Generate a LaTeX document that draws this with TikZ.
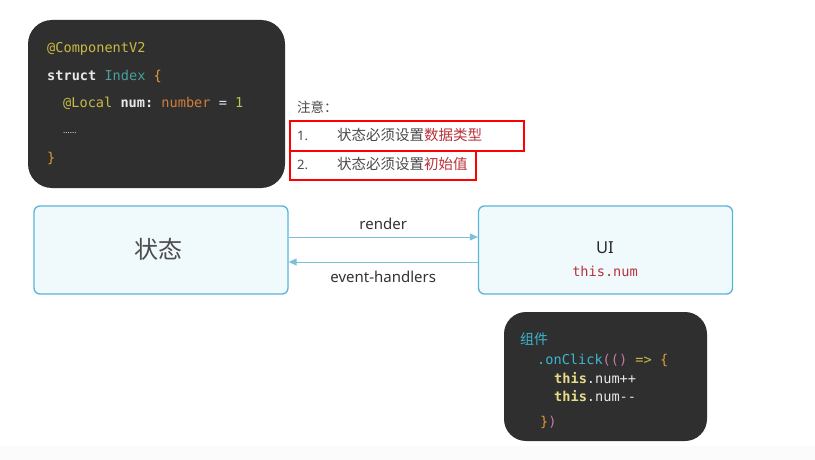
\documentclass[tikz,border=0pt]{standalone}
\usepackage{fontspec}
\setmainfont{Noto Sans}
\setmonofont{DejaVu Sans Mono}
\newfontfamily\cjk{Noto Sans CJK SC}
\usetikzlibrary{arrows.meta}
\definecolor{codebg}{HTML}{2F2F2F}
\definecolor{cyel}{HTML}{C8BA45}
\definecolor{cteal}{HTML}{4A9FA0}
\definecolor{corange}{HTML}{E09A3A}
\definecolor{cnum}{HTML}{D27E3A}
\definecolor{cgreen}{HTML}{B8C850}
\definecolor{cwhite}{HTML}{E8E8E8}
\definecolor{ccyan}{HTML}{3CB6D0}
\definecolor{cpink}{HTML}{C678A8}
\definecolor{cthis}{HTML}{E6DC8A}
\definecolor{boxfill}{HTML}{F0FAFD}
\definecolor{boxline}{HTML}{5BB3D8}
\definecolor{arrowc}{HTML}{7CC0DC}
\definecolor{redtxt}{HTML}{B8323A}
\definecolor{graytxt}{HTML}{4A4A4A}
\tikzset{
  codebox/.style={draw=none, fill=codebg, rounded corners=24pt, inner sep=0pt},
  codeline/.style={anchor=base west, inner sep=0pt, font=\ttfamily\fontsize{13.6}{14}\selectfont},
  statebox/.style={draw=boxline, line width=1.3pt, fill=boxfill, rounded corners=6pt, inner sep=0pt, minimum width=254pt, minimum height=88pt},
  redbox/.style={draw=red, line width=2.2pt, inner sep=0pt},
  listtxt/.style={anchor=base west, inner sep=0pt, text=graytxt, font=\cjk\fontsize{14.5}{15}\selectfont},
  flow/.style={draw=arrowc, line width=1pt, -{Triangle[length=8pt,width=7pt]}},
  lbl/.style={inner sep=0pt, text=black!80, font=\fontsize{15}{16}\selectfont}
}
\begin{document}
\begin{tikzpicture}[x=1pt,y=-1pt]
\useasboundingbox (0,0) rectangle (815,460);
\fill[white] (0,0) rectangle (815,460);
\fill[black!1.5] (0,446) rectangle (815,460);

% top code box
\node[codebox, minimum width=257pt, minimum height=168pt] (code1) at (156.5,104) {};
\node[codeline] (c1a) at (47,53) {\textcolor{cyel}{@ComponentV2}};
\node[codeline] (c1b) at (47,81) {\textcolor{cwhite}{\bfseries struct} \textcolor{cteal}{Index} \textcolor{corange}{\{}};
\node[codeline] (c1c) at (63,108) {\textcolor{cyel}{@Local} \textcolor{cwhite}{\bfseries num:} \textcolor{cnum}{number} \textcolor{cwhite}{=} \textcolor{cgreen}{1}};
\node[codeline, font=\rmfamily\fontsize{8.5}{9}\selectfont] (c1d) at (63,134) {\textcolor{cwhite}{……}};
\node[codeline] (c1e) at (47,162) {\textcolor{corange}{\}}};

% notes
\node[listtxt, font=\cjk\fontsize{13.5}{14}\selectfont] (note) at (297,113) {注意：};
\node[redbox, minimum width=234pt, minimum height=30pt] (r1) at (407,136) {};
\node[redbox, minimum width=186pt, minimum height=29pt] (r2) at (383,165.5) {};
\node[listtxt, font=\fontsize{13}{14}\selectfont] (n1) at (297,140.5) {1.};
\node[listtxt] (t1) at (337,140.5) {状态必须设置\textcolor{redtxt}{数据类型}};
\node[listtxt, font=\fontsize{13}{14}\selectfont] (n2) at (297,169) {2.};
\node[listtxt] (t2) at (337,169) {状态必须设置\textcolor{redtxt}{初始值}};

% state and UI boxes
\node[statebox] (state) at (161,250) {};
\node[inner sep=0pt, text=black!70, font=\cjk\fontsize{24}{25}\selectfont] (statelbl) at (158,249) {状态};
\node[statebox] (ui) at (605.5,250) {};
\node[inner sep=0pt, text=black!85, font=\fontsize{16.5}{17}\selectfont] (uilbl) at (605,248) {UI};
\node[inner sep=0pt, text=redtxt, font=\ttfamily\fontsize{13.6}{14}\selectfont] (uinum) at (605,271) {this.num};

\draw[flow] ([yshift=13pt]state.east) -- ([yshift=13pt]ui.west) node[midway, above=7pt, lbl] (render) {render};
\draw[flow] ([yshift=-12pt]ui.west) -- ([yshift=-12pt]state.east) node[midway, below=9pt, lbl] (event) {event-handlers};

% bottom code box
\node[codebox, rounded corners=22pt, minimum width=203pt, minimum height=129pt] (code2) at (605.5,376.5) {};
\node[codeline, font=\cjk\fontsize{14}{15}\selectfont] (c2a) at (520,344) {\textcolor{ccyan}{组件}};
\node[codeline] (c2b) at (537,364) {\textcolor{ccyan}{.onClick}\textcolor{cpink}{(()} \textcolor{cyel}{=>} \textcolor{corange}{\{}};
\node[codeline] (c2c) at (554,383) {\textcolor{cthis}{\bfseries this}\textcolor{cwhite}{.num++}};
\node[codeline] (c2d) at (554,401) {\textcolor{cthis}{\bfseries this}\textcolor{cwhite}{.num-{}-}};
\node[codeline] (c2e) at (540,426) {\textcolor{corange}{\}}\textcolor{cpink}{)}};
\end{tikzpicture}
\end{document}
